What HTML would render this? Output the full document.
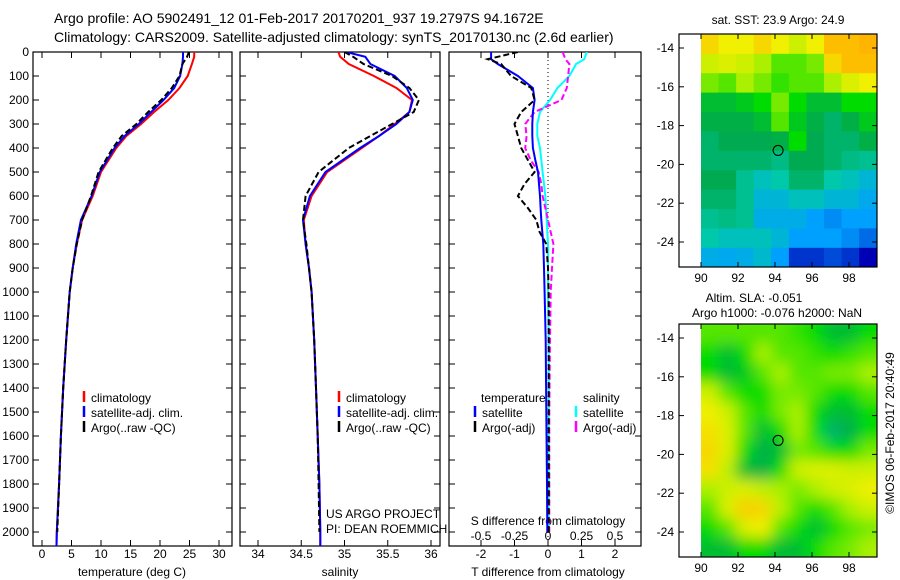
<!DOCTYPE html>
<html><head><meta charset="utf-8">
<style>
html,body{margin:0;padding:0;background:#fff;}
svg{display:block;font-family:"Liberation Sans",sans-serif;}
text{font-size:12px;fill:#000;}
</style></head>
<body>
<svg id="fig" width="900" height="580" viewBox="0 0 900 580" xmlns="http://www.w3.org/2000/svg">
<defs>
<filter id="blur" x="0" y="0" width="100%" height="100%"><feGaussianBlur stdDeviation="7"/></filter>
<clipPath id="clipP1"><rect x="33" y="52" width="199" height="494"/></clipPath>
<clipPath id="clipP2"><rect x="240" y="52" width="200" height="494"/></clipPath>
<clipPath id="clipP3"><rect x="449" y="52" width="192" height="494"/></clipPath>
<clipPath id="clipM1"><rect x="701" y="34" width="176" height="233"/></clipPath>
<clipPath id="clipM2"><rect x="701" y="324" width="176" height="233"/></clipPath>
</defs>
<text x="54" y="23" style="font-size:14px">Argo profile: AO 5902491_12 01-Feb-2017 20170201_937 19.2797S 94.1672E</text>
<text x="54" y="42" style="font-size:14px">Climatology: CARS2009. Satellite-adjusted climatology: synTS_20170130.nc (2.6d earlier)</text>
<g id="g1"></g>
<g id="g2"></g>
<g id="g3"></g>
<g id="m1"></g>
<g id="m2"></g>
<text x="0" y="0" transform="translate(894,433) rotate(-90)" text-anchor="middle">©IMOS 06-Feb-2017 20:40:49</text>
</svg>
<script>
// ---- profile data ----
const depths = [0,20,50,100,150,200,250,300,350,400,500,600,700,800,900,1000,1200,1400,1600,1800,2000,2060];
const climT  = [25.8,25.8,25.4,24.7,23.3,21.4,19.0,16.8,14.3,12.6,10.0,8.6,6.8,5.9,5.2,4.7,4.1,3.6,3.2,2.9,2.5,2.45];
const satT   = [23.9,23.9,23.8,23.4,22.4,20.6,18.5,16.4,14.0,12.3,9.8,8.4,6.6,5.8,5.2,4.7,4.1,3.6,3.2,2.9,2.5,2.45];
const argoDepths = [0,20,50,100,150,200,250,300,350,400,500,600,700,800,900,1000,1200,1400,1600,1800,2000];
const argoT  = [24.9,24.6,23.8,23.3,22.0,20.2,18.0,16.0,13.5,12.0,9.6,8.3,6.8,5.9,5.2,4.7,4.1,3.6,3.2,2.9,2.6];
const climS  = [34.93,34.95,35.05,35.34,35.6,35.78,35.75,35.58,35.4,35.2,34.8,34.62,34.53,34.55,34.59,34.62,34.65,34.67,34.69,34.71,34.72,34.72];
const satS   = [35.02,35.24,35.3,35.58,35.72,35.79,35.75,35.6,35.4,35.18,34.78,34.6,34.52,34.55,34.59,34.62,34.65,34.67,34.69,34.71,34.72,34.72];
const argoS  = [35.0,35.1,35.22,35.55,35.75,35.86,35.8,35.55,35.3,35.05,34.7,34.55,34.52,34.56,34.59,34.62,34.65,34.67,34.69,34.7,34.71];
// ---- difference data ----
const diffDepths = [0,30,50,100,150,200,250,300,350,400,450,500,550,600,650,700,750,800,900,1000,1200,1500,1800,2000];
const dSatT  = [-1.7,-1.7,-1.5,-0.9,-0.45,-0.4,-0.45,-0.47,-0.47,-0.45,-0.38,-0.3,-0.27,-0.24,-0.22,-0.2,-0.17,-0.14,-0.12,-0.1,-0.07,-0.05,-0.03,-0.02];
const dSatS  = [0.29,0.27,0.21,0.16,0.07,0.015,-0.06,-0.08,-0.08,-0.06,-0.05,-0.04,-0.03,-0.02,-0.015,-0.01,-0.005,0,0,0,0.005,0.005,0.005,0.005];
const dArgoT = [-0.9,-1.8,-1.4,-1.1,-0.5,-0.4,-0.8,-1.0,-0.9,-0.8,-0.6,-0.4,-0.7,-0.9,-0.6,-0.35,-0.25,-0.05,0.0,0.02,0.02,0.02,0.02,0.02];
const dArgoS = [0.11,0.13,0.16,0.15,0.14,0.1,-0.1,-0.17,-0.16,-0.17,-0.13,-0.07,-0.05,-0.04,-0.02,0.0,0.02,0.04,0.03,0.02,0.015,0.01,0.01,0.01];
// ---- tick labels ----
const depthTicks = [0,100,200,300,400,500,600,700,800,900,1000,1100,1200,1300,1400,1500,1600,1700,1800,1900,2000];
const tempTicks = [0,5,10,15,20,25,30];
const salTicks = [34,34.5,35,35.5,36];
const dTTicks = [-2,-1,0,1,2];
const dSTicks = [-0.5,-0.25,0,0.25,0.5];
const lonTicks = [90,92,94,96,98];
const latTicks = [-14,-16,-18,-20,-22,-24];
// ---- map data (normalized colour index 0..1) ----
const sstGrid = [
[0.8,0.75,0.75,0.8,0.75,0.7,0.75,0.85,0.85,0.9],
[0.7,0.72,0.7,0.65,0.6,0.6,0.62,0.8,0.85,0.85],
[0.62,0.6,0.65,0.62,0.58,0.6,0.6,0.65,0.72,0.75],
[0.5,0.5,0.52,0.55,0.62,0.55,0.5,0.5,0.55,0.55],
[0.48,0.48,0.48,0.5,0.6,0.52,0.48,0.45,0.48,0.52],
[0.45,0.47,0.47,0.47,0.48,0.55,0.47,0.45,0.45,0.48],
[0.45,0.45,0.45,0.45,0.43,0.47,0.47,0.45,0.43,0.42],
[0.47,0.47,0.42,0.38,0.4,0.45,0.45,0.4,0.38,0.35],
[0.45,0.45,0.42,0.35,0.35,0.38,0.38,0.35,0.35,0.32],
[0.42,0.43,0.42,0.33,0.33,0.33,0.3,0.28,0.3,0.3],
[0.4,0.38,0.38,0.38,0.35,0.3,0.3,0.3,0.28,0.25],
[0.33,0.32,0.33,0.36,0.3,0.2,0.2,0.22,0.2,0.15]];
const slaGrid = [
[0.6,0.6,0.6,0.6,0.6,0.58,0.55,0.5,0.5,0.55],
[0.55,0.5,0.55,0.65,0.6,0.6,0.58,0.55,0.58,0.6],
[0.55,0.5,0.52,0.6,0.65,0.6,0.6,0.62,0.62,0.65],
[0.7,0.6,0.55,0.55,0.62,0.62,0.6,0.55,0.55,0.6],
[0.75,0.7,0.6,0.55,0.62,0.65,0.55,0.5,0.5,0.55],
[0.78,0.72,0.6,0.5,0.55,0.65,0.55,0.45,0.48,0.55],
[0.8,0.72,0.55,0.48,0.5,0.62,0.6,0.55,0.55,0.62],
[0.78,0.68,0.5,0.48,0.55,0.7,0.72,0.72,0.7,0.7],
[0.65,0.7,0.72,0.68,0.65,0.62,0.65,0.7,0.72,0.75],
[0.6,0.72,0.82,0.8,0.68,0.6,0.55,0.6,0.65,0.7],
[0.55,0.6,0.72,0.75,0.6,0.55,0.5,0.55,0.6,0.62],
[0.5,0.5,0.55,0.55,0.5,0.5,0.55,0.6,0.62,0.65]];
const argoLon = 94.1672, argoLat = -19.2797;

const NS = "http://www.w3.org/2000/svg";
function mk(tag, parent, attrs){ const e=document.createElementNS(NS,tag); for(const k in attrs) e.setAttribute(k,attrs[k]); parent.appendChild(e); return e; }
const yD = d => 52 + d*0.24;
const xT = t => 42 + t*5.9;
const xS = s => 258 + (s-34)*86.5;
const xDT = t => 548 + t*33.5;
const xDS = s => 548 + s*134;

function frame(g, x0, x1, name){
  const r = mk('rect', g, {x:x0, y:52, width:x1-x0, height:494, fill:'none', stroke:'#000', 'stroke-width':1.2});
  
  
  depthTicks.forEach(d=>{
    mk('line', g, {x1:x0, x2:x0+6, y1:yD(d), y2:yD(d), stroke:'#000'});
    mk('line', g, {x1:x1, x2:x1-6, y1:yD(d), y2:yD(d), stroke:'#000'});
  });
}
function line(g, xs, ds, fx, color, dash, name, clip){
  const pts = xs.map((v,i)=>fx(v).toFixed(1)+','+yD(ds[i]).toFixed(1)).join(' ');
  const p = mk('polyline', g, {points:pts, fill:'none', stroke:color, 'stroke-width':2, 'clip-path':'url(#'+clip+')'});
  if(dash) p.setAttribute('stroke-dasharray', dash);
  
  
}
function txt(g, x, y, s, anchor, name){
  const t = mk('text', g, {x:x, y:y, 'text-anchor':anchor||'start'});
  t.textContent = s;
  
  
  return t;
}
function legend(g, x, y, color, label, name){
  mk('line', g, {x1:x, x2:x, y1:y-11, y2:y, stroke:color, 'stroke-width':2.5});
  txt(g, x+7, y, label, 'start', name);
}

// Panel 1
const g1 = document.getElementById('g1');
frame(g1, 33, 232, 'temperature-axes');
depthTicks.forEach(d=>{ txt(g1, 29, yD(d)+4, String(d), 'end', 'depth-tick-label'); });
tempTicks.forEach(t=>{
  mk('line', g1, {x1:xT(t), x2:xT(t), y1:52, y2:58, stroke:'#000'});
  mk('line', g1, {x1:xT(t), x2:xT(t), y1:546, y2:540, stroke:'#000'});
  txt(g1, xT(t), 558, String(t), 'middle', 'temperature-tick-label');
});
txt(g1, 132, 576, 'temperature (deg C)', 'middle', 'x-axis-title-temperature');
line(g1, climT, depths, xT, '#ff0000', null, 'climatology-temperature-line', 'clipP1');
line(g1, satT, depths, xT, '#0000ff', null, 'satellite-temperature-line', 'clipP1');
line(g1, argoT, argoDepths, xT, '#000000', '6,3', 'argo-temperature-line', 'clipP1');
legend(g1, 84, 402, '#ff0000', 'climatology', 'legend-climatology');
legend(g1, 84, 417, '#0000ff', 'satellite-adj. clim.', 'legend-satellite');
legend(g1, 84, 432, '#000000', 'Argo(..raw -QC)', 'legend-argo');

// Panel 2
const g2 = document.getElementById('g2');
frame(g2, 240, 440, 'salinity-axes');
salTicks.forEach(s=>{
  mk('line', g2, {x1:xS(s), x2:xS(s), y1:52, y2:58, stroke:'#000'});
  mk('line', g2, {x1:xS(s), x2:xS(s), y1:546, y2:540, stroke:'#000'});
  txt(g2, xS(s), 558, String(s), 'middle', 'salinity-tick-label');
});
txt(g2, 340, 576, 'salinity', 'middle', 'x-axis-title-salinity');
line(g2, climS, depths, xS, '#ff0000', null, 'climatology-salinity-line', 'clipP2');
line(g2, satS, depths, xS, '#0000ff', null, 'satellite-salinity-line', 'clipP2');
line(g2, argoS, argoDepths, xS, '#000000', '6,3', 'argo-salinity-line', 'clipP2');
legend(g2, 339, 402, '#ff0000', 'climatology', 'legend-climatology');
legend(g2, 339, 417, '#0000ff', 'satellite-adj. clim.', 'legend-satellite');
legend(g2, 339, 432, '#000000', 'Argo(..raw -QC)', 'legend-argo');
txt(g2, 326, 518, 'US ARGO PROJECT', 'start', 'credit-project');
txt(g2, 326, 533, 'PI: DEAN ROEMMICH', 'start', 'credit-pi');

// Panel 3
const g3 = document.getElementById('g3');
frame(g3, 449, 641, 'difference-axes');
mk('line', g3, {x1:548, x2:548, y1:52, y2:546, stroke:'#000', 'stroke-dasharray':'1,3'});
dTTicks.forEach(t=>{
  mk('line', g3, {x1:xDT(t), x2:xDT(t), y1:52, y2:58, stroke:'#000'});
  mk('line', g3, {x1:xDT(t), x2:xDT(t), y1:546, y2:540, stroke:'#000'});
  txt(g3, xDT(t), 558, String(t), 'middle', 't-diff-tick-label');
});
dSTicks.forEach(s=>{ txt(g3, xDS(s), 540, String(s), 'middle', 's-diff-tick-label'); });
txt(g3, 548, 525, 'S difference from climatology', 'middle', 's-diff-axis-title');
txt(g3, 548, 576, 'T difference from climatology', 'middle', 't-diff-axis-title');
line(g3, dSatS, diffDepths, xDS, '#00ffff', null, 'satellite-salinity-diff-line', 'clipP3');
line(g3, dArgoS, diffDepths, xDS, '#ff00ff', '6,3', 'argo-salinity-diff-line', 'clipP3');
line(g3, dSatT, diffDepths, xDT, '#0000ff', null, 'satellite-temperature-diff-line', 'clipP3');
line(g3, dArgoT, diffDepths, xDT, '#000000', '6,3', 'argo-temperature-diff-line', 'clipP3');
txt(g3, 481, 402, 'temperature', 'start', 'legend-temperature-heading');
legend(g3, 475, 417, '#0000ff', 'satellite', 'legend-t-satellite');
legend(g3, 475, 432, '#000000', 'Argo(-adj)', 'legend-t-argo');
txt(g3, 583, 402, 'salinity', 'start', 'legend-salinity-heading');
legend(g3, 576, 417, '#00ffff', 'satellite', 'legend-s-satellite');
legend(g3, 576, 432, '#ff00ff', 'Argo(-adj)', 'legend-s-argo');

// Maps
const cmapStops = [[0.15,[0,0,180]],[0.3,[0,160,255]],[0.4,[0,200,170]],[0.47,[0,170,80]],[0.55,[0,220,0]],[0.65,[170,240,0]],[0.75,[240,240,0]],[0.87,[255,180,0]]];
function cmap(v){
  if(v<=cmapStops[0][0]) return 'rgb('+cmapStops[0][1].join(',')+')';
  for(let i=1;i<cmapStops.length;i++){
    if(v<=cmapStops[i][0]){
      const a=cmapStops[i-1], b=cmapStops[i], f=(v-a[0])/(b[0]-a[0]);
      return 'rgb('+a[1].map((c,k)=>Math.round(c+(b[1][k]-c)*f)).join(',')+')';
    }
  }
  return 'rgb('+cmapStops[cmapStops.length-1][1].join(',')+')';
}
function drawMap(id, y0, grid, clip, blur, name){
  const g = document.getElementById(id);
  const xL = lon => 701 + (lon-90)*18.5;
  const yL = lat => y0 + 14 + (-14-lat)*19.4;
  const cells = mk('g', g, {'clip-path':'url(#'+clip+')'});
  const inner = mk('g', cells, blur ? {filter:'url(#blur)'} : {});
  const rows = grid.length, cols = grid[0].length;
  const lonW = 9.5/cols, latH = 12/rows;
  grid.forEach((row,r)=>row.forEach((v,c)=>{
    const x = xL(90 + c*lonW), y = yL(-13.3 - r*latH);
    const pad = blur ? 12 : 0;
    const cx0 = c===0 ? x-pad : x, cy0 = r===0 ? y-pad : y;
    const w = xL(90+(c+1)*lonW) - cx0 + (c===cols-1?pad:0) + 0.5;
    const h = yL(-13.3-(r+1)*latH) - cy0 + (r===rows-1?pad:0) + 0.5;
    const rc = mk('rect', inner, {x:cx0, y:cy0, width:w, height:h, fill:cmap(v)});
    
    
  }));
  const fr = mk('rect', g, {x:679, y:y0, width:198, height:233, fill:'none', stroke:'#000', 'stroke-width':1.2});
  
  
  lonTicks.forEach(l=>{
    mk('line', g, {x1:xL(l), x2:xL(l), y1:y0, y2:y0+5, stroke:'#000'});
    mk('line', g, {x1:xL(l), x2:xL(l), y1:y0+233, y2:y0+228, stroke:'#000'});
    txt(g, xL(l), y0+248, String(l), 'middle', 'longitude-tick-label');
  });
  latTicks.forEach(l=>{
    mk('line', g, {x1:679, x2:684, y1:yL(l), y2:yL(l), stroke:'#000'});
    mk('line', g, {x1:877, x2:872, y1:yL(l), y2:yL(l), stroke:'#000'});
    txt(g, 674, yL(l)+4, String(l), 'end', 'latitude-tick-label');
  });
  const m = mk('circle', g, {cx:xL(argoLon), cy:yL(argoLat), r:5, fill:'none', stroke:'#000', 'stroke-width':1});
  
  
  return g;
}
const gm1 = drawMap('m1', 34, sstGrid, 'clipM1', false, 'sst-map');
txt(gm1, 778, 24, 'sat. SST: 23.9 Argo: 24.9', 'middle', 'sst-map-title');
const gm2 = drawMap('m2', 324, slaGrid, 'clipM2', true, 'sla-map');
txt(gm2, 754, 302, 'Altim. SLA: -0.051', 'middle', 'sla-map-title');
txt(gm2, 777, 317, 'Argo h1000: -0.076 h2000: NaN', 'middle', 'sla-map-subtitle');
</script>
</body></html>
